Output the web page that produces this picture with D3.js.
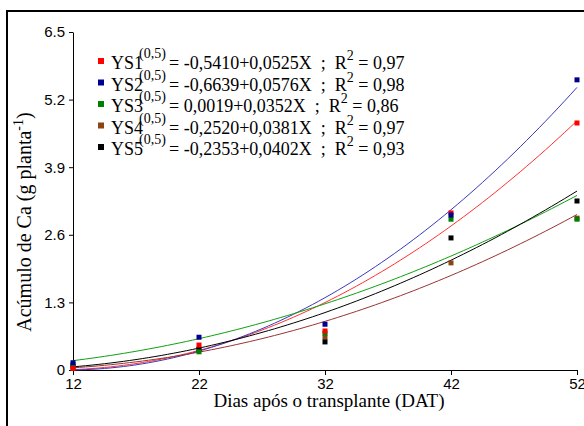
<!DOCTYPE html>
<html>
<head>
<meta charset="utf-8">
<script src="https://cdn.jsdelivr.net/npm/d3@7"></script>
<style>
  body { margin: 0; background: #fff; }
  svg { display: block; }
  text { white-space: pre; }
</style>
</head>
<body>
<svg></svg>
<script>
// data
const days = [12, 22, 32, 42, 52];
const seriesNames = ["YS1", "YS2", "YS3", "YS4", "YS5"];
const intercepts = [-0.5410, -0.6639, 0.0019, -0.2520, -0.2353];
const slopes = [0.0525, 0.0576, 0.0352, 0.0381, 0.0402];
const interceptLabels = ["-0,5410", "-0,6639", "0,0019", "-0,2520", "-0,2353"];
const slopeLabels = ["0,0525", "0,0576", "0,0352", "0,0381", "0,0402"];
const r2Labels = ["0,97", "0,98", "0,86", "0,97", "0,93"];

const ys1 = [0.03, 0.48, 0.75, 3.02, 4.75];
const ys2 = [0.14, 0.63, 0.88, 2.98, 5.58];
const ys3 = [0.05, 0.35, 0.71, 2.90, 2.90];
const ys4 = [0.06, 0.40, 0.63, 2.06, 2.92];
const ys5 = [0.10, 0.40, 0.54, 2.54, 3.25];
const observed = [ys1, ys2, ys3, ys4, ys5];

const yTicks = [0, 1.3, 2.6, 3.9, 5.2, 6.5];

const lineColors = ["#ff3030", "#3838c0", "#10a010", "#993333", "#000000"];
const markColors = ["#ff0000", "#000090", "#008000", "#8b4513", "#000000"];

const width = 584, height = 426;
const svg = d3.select('svg')
    .attr('width', width)
    .attr('height', height);

// outer frame (cut off at right and bottom)
svg.append('path')
    .attr('d', `M7,${height} V11 H${width}`)
    .attr('fill', 'none')
    .attr('stroke', 'black')
    .attr('stroke-width', 2);

const x = d3.scaleLinear().domain([12, 52]).range([73, 577]);
const y = d3.scaleLinear().domain([0, 6.5]).range([370, 32]);

const xAxis = d3.axisBottom(x)
    .tickValues(days)
    .tickSize(5)
    .tickSizeOuter(0)
    .tickPadding(3)
    .tickFormat(d3.format('d'));
const yAxis = d3.axisLeft(y)
    .tickValues(yTicks)
    .tickSize(4)
    .tickSizeOuter(0)
    .tickPadding(4)
    .tickFormat(d => d === 0 ? '0' : d3.format('.1f')(d));

const xAxisG = svg.append('g')
    .attr('transform', `translate(0,${y(0)})`)
    .call(xAxis);
const yAxisG = svg.append('g')
    .attr('transform', `translate(${x(12)},0)`)
    .call(yAxis);

[xAxisG, yAxisG].forEach(g => {
    g.select('.domain').attr('stroke', 'black');
    g.selectAll('.tick line').attr('stroke', 'black');
    g.selectAll('.tick text')
        .attr('fill', 'black')
        .style('font-family', '"Liberation Sans", Arial, sans-serif')
        .style('font-size', '15px');
});

// fitted curves: Y^(0,5) = a + bX
const curveX = d3.range(12, 52.001, 0.5);
const line = d3.line()
    .x(d => x(d[0]))
    .y(d => y(d[1]));

seriesNames.forEach((name, i) => {
    const pts = curveX.map(d => [d, Math.pow(intercepts[i] + slopes[i] * d, 2)]);
    svg.append('path')
        .datum(pts)
        .attr('fill', 'none')
        .attr('stroke', lineColors[i])
        .attr('stroke-width', 1)
        .attr('d', line);
});

// observed points
const drawOrder = [3, 4, 2, 0, 1];
drawOrder.forEach(i => {
    svg.append('g').selectAll('rect')
        .data(days.map((d, k) => [d, observed[i][k]]))
        .enter().append('rect')
        .attr('x', d => x(d[0]) - 2.5)
        .attr('y', d => y(d[1]) - 2.5)
        .attr('width', 5)
        .attr('height', 5)
        .attr('fill', markColors[i]);
});

// legend
const legend = svg.append('g')
    .style('font-family', '"Liberation Serif", "Times New Roman", serif')
    .style('font-size', '18px');

seriesNames.forEach((name, i) => {
    const base = 69 + i * 21.5;
    legend.append('rect')
        .attr('x', 98)
        .attr('y', base - 11)
        .attr('width', 6)
        .attr('height', 6)
        .attr('fill', markColors[i]);
    const t = legend.append('text')
        .attr('x', 111)
        .attr('y', base)
        .attr('fill', 'black');
    t.append('tspan').text(name);
    t.append('tspan')
        .attr('x', 139)
        .attr('dy', -11)
        .style('font-size', '14px')
        .text('(0,5)');
    const rest = '= ' + interceptLabels[i] + '+' + slopeLabels[i] + 'X  ;  R';
    t.append('tspan')
        .attr('x', 169)
        .attr('dy', 11)
        .text(rest);
    t.append('tspan')
        .attr('dy', -9)
        .style('font-size', '14px')
        .text('2');
    t.append('tspan')
        .attr('dy', 9)
        .text(' = ' + r2Labels[i]);
});

// axis titles
svg.append('text')
    .attr('x', (x(12) + x(52)) / 2 + 4)
    .attr('y', 407)
    .attr('text-anchor', 'middle')
    .attr('fill', 'black')
    .style('font-family', '"Liberation Serif", "Times New Roman", serif')
    .style('font-size', '19px')
    .text('Dias após o transplante (DAT)');

const yt = svg.append('text')
    .attr('transform', 'translate(31,222) rotate(-90)')
    .attr('text-anchor', 'middle')
    .attr('fill', 'black')
    .style('font-family', '"Liberation Serif", "Times New Roman", serif')
    .style('font-size', '20px');
yt.append('tspan').text('Acúmulo de Ca (g planta');
yt.append('tspan').attr('dy', -8).style('font-size', '14px').text('-1');
yt.append('tspan').attr('dy', 8).text(')');
</script>
</body>
</html>
